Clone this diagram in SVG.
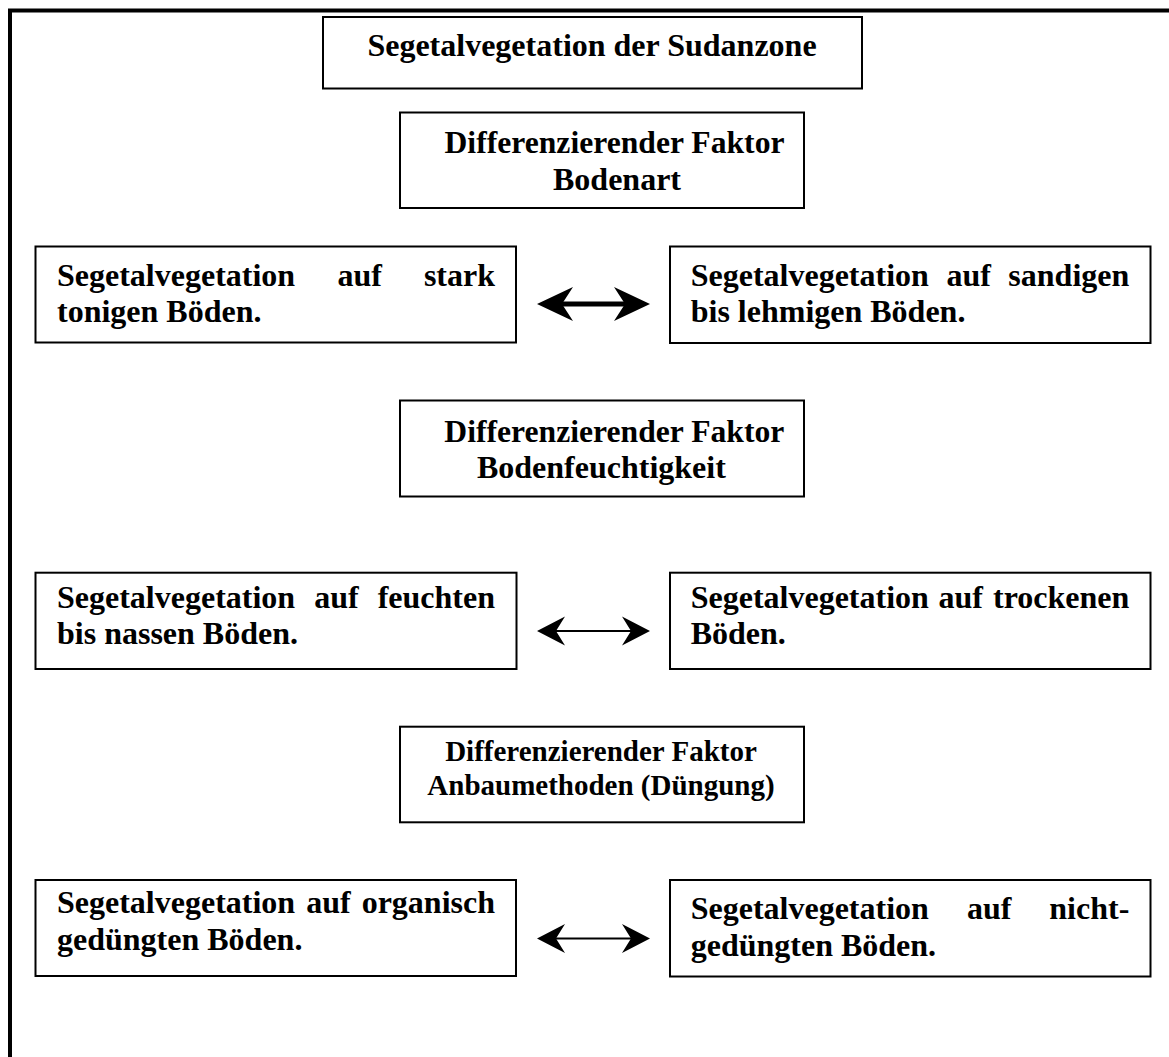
<svg xmlns="http://www.w3.org/2000/svg" width="1169" height="1057" viewBox="0 0 1169 1057">
<style>
.box{fill:#fff;stroke:#000;stroke-width:2}
.t{font-family:"Liberation Serif","Times New Roman",serif;font-weight:bold;font-size:32px;fill:#000}
.s{font-size:29px}
.m{text-anchor:middle}
.e{text-anchor:end}
.frame{stroke:#000;stroke-width:4;fill:none}
</style>
<rect width="1169" height="1057" fill="#fff"/>
<path class="frame" d="M10,1057 V10.5 H1169"/>

<g id="title">
<rect class="box" x="323" y="17" width="539" height="71.5"/>
<text class="t m" x="592" y="56">Segetalvegetation der Sudanzone</text>
</g>

<g id="faktor-bodenart">
<rect class="box" x="400" y="112.5" width="404" height="95.5"/>
<text class="t" x="444.5" y="153" textLength="340" lengthAdjust="spacingAndGlyphs">Differenzierender Faktor</text>
<text class="t m" x="617" y="190">Bodenart</text>
</g>

<g id="tonig">
<rect class="box" x="35.5" y="246.5" width="480.5" height="96"/>
<text class="t" x="57" y="286">Segetalvegetation</text>
<text class="t" x="337.4" y="286">auf</text>
<text class="t e" x="495" y="286">stark</text>
<text class="t" x="57" y="322">tonigen Böden.</text>
</g>

<g id="sandig">
<rect class="box" x="670" y="246.5" width="480.5" height="96.5"/>
<text class="t" x="690.7" y="286">Segetalvegetation</text>
<text class="t" x="946.4" y="286">auf</text>
<text class="t e" x="1129.3" y="286">sandigen</text>
<text class="t" x="690.7" y="322">bis lehmigen Böden.</text>
</g>

<g id="faktor-bodenfeuchtigkeit">
<rect class="box" x="400" y="400.5" width="404" height="96"/>
<text class="t" x="444.3" y="441.7" textLength="340" lengthAdjust="spacingAndGlyphs">Differenzierender Faktor</text>
<text class="t m" x="601.4" y="478.3">Bodenfeuchtigkeit</text>
</g>

<g id="feucht">
<rect class="box" x="35.5" y="572.7" width="481" height="96.3"/>
<text class="t" x="57" y="608">Segetalvegetation</text>
<text class="t" x="314.3" y="608">auf</text>
<text class="t e" x="495" y="608">feuchten</text>
<text class="t" x="57" y="644">bis nassen Böden.</text>
</g>

<g id="trocken">
<rect class="box" x="670" y="572.7" width="480.5" height="96.3"/>
<text class="t" x="690.7" y="608">Segetalvegetation</text>
<text class="t" x="938.5" y="608">auf</text>
<text class="t e" x="1129.3" y="608">trockenen</text>
<text class="t" x="690.7" y="644">Böden.</text>
</g>

<g id="faktor-anbaumethoden">
<rect class="box" x="400" y="726.7" width="404" height="95.6"/>
<text class="t s m" x="601" y="761">Differenzierender Faktor</text>
<text class="t s m" x="601" y="795">Anbaumethoden (Düngung)</text>
</g>

<g id="organisch">
<rect class="box" x="35.5" y="880" width="480.5" height="96"/>
<text class="t" x="57" y="913">Segetalvegetation</text>
<text class="t" x="306.3" y="913">auf</text>
<text class="t e" x="495" y="913">organisch</text>
<text class="t" x="57" y="950">gedüngten Böden.</text>
</g>

<g id="nichtgeduengt">
<rect class="box" x="670" y="880" width="480.5" height="96.5"/>
<text class="t" x="690.7" y="919">Segetalvegetation</text>
<text class="t" x="966.9" y="919">auf</text>
<text class="t e" x="1129.3" y="919">nicht-</text>
<text class="t" x="690.7" y="956">gedüngten Böden.</text>
</g>

<g id="connectors" fill="#000" stroke="#000">
<line x1="562" y1="304" x2="625" y2="304" stroke-width="5"/>
<path stroke="none" d="M537,304 L573,287 L562,304 L573,321 Z"/>
<path stroke="none" d="M650,304 L614,287 L625,304 L614,321 Z"/>
<line x1="556" y1="631" x2="631" y2="631" stroke-width="2"/>
<path stroke="none" d="M537,631 L565,616.5 L556,631 L565,645.5 Z"/>
<path stroke="none" d="M650,631 L622,616.5 L631,631 L622,645.5 Z"/>
<line x1="556" y1="938.5" x2="631" y2="938.5" stroke-width="2"/>
<path stroke="none" d="M537,938.5 L565,924 L556,938.5 L565,953 Z"/>
<path stroke="none" d="M650,938.5 L622,924 L631,938.5 L622,953 Z"/>
</g>
</svg>
